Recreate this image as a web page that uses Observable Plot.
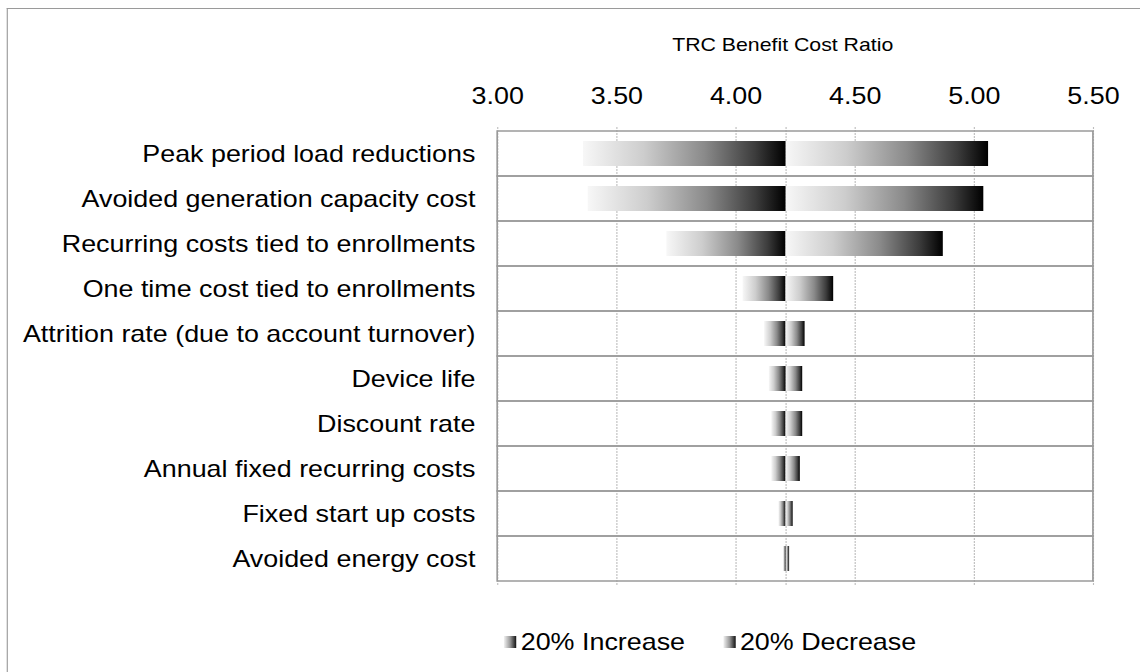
<!DOCTYPE html>
<html>
<head>
<meta charset="utf-8">
<script src="https://cdn.jsdelivr.net/npm/d3@7"></script>
<script src="https://cdn.jsdelivr.net/npm/@observablehq/plot@0.6"></script>
<style>
  html, body { margin: 0; padding: 0; background: #fff; overflow: hidden; }
  #stage { position: absolute; left: 0; top: 0; width: 1018px; height: 672px;
           transform: scaleX(1.1198); transform-origin: 0 0;
           font-family: 'Liberation Sans', Arial, sans-serif; color: #000; }
  #border { position: absolute; left: 6px; top: 8px; width: 1100px; height: 720px;
            border-left: 1.5px solid #9a9a9a; border-top: 1.5px solid #9a9a9a; }
  #title { position: absolute; left: 449px; width: 500px; top: 35px; text-align: center;
           font-size: 19px; line-height: 19px; }
  #plot { position: absolute; left: 0; top: 0; }
  #legend { position: absolute; left: 450px; top: 630px; display: flex; align-items: center;
            font-size: 24px; line-height: 24px; }
  .item { display: flex; align-items: center; margin-right: 34px; }
  .sw { width: 11px; height: 12px; margin-right: 4px;
        background: linear-gradient(to right, #f2f2f2, #9a9a9a 50%, #111); }
</style>
</head>
<body>
<div id="stage">
  <div id="border"></div>
  <div id="title"></div>
  <div id="plot"></div>
  <div id="legend"></div>
</div>
<script>
// ---- data ----
const titleText = "TRC Benefit Cost Ratio";
const categories = [
  "Peak period load reductions",
  "Avoided generation capacity cost",
  "Recurring costs tied to enrollments",
  "One time cost tied to enrollments",
  "Attrition rate (due to account turnover)",
  "Device life",
  "Discount rate",
  "Annual fixed recurring costs",
  "Fixed start up costs",
  "Avoided energy cost"
];
const seriesNames = ["20% Increase", "20% Decrease"];
const increaseValues = [5.06, 5.04, 3.71, 4.03, 4.12, 4.28, 4.15, 4.15, 4.18, 4.225];
const decreaseValues = [3.36, 3.38, 4.87, 4.41, 4.29, 4.14, 4.28, 4.27, 4.24, 4.20];
const baseValue = 4.21;
const xTicks = [3.0, 3.5, 4.0, 4.5, 5.0, 5.5];

// ---- table built from the arrays ----
const rows = [];
categories.forEach((c, i) => {
  rows.push({category: c, series: seriesNames[0], value: increaseValues[i]});
  rows.push({category: c, series: seriesNames[1], value: decreaseValues[i]});
});

const xMin = xTicks[0], xMax = xTicks[xTicks.length - 1];

const chart = Plot.plot({
  width: 1018,
  height: 610,
  marginLeft: 444,
  marginRight: 42,
  marginTop: 127,
  marginBottom: 25,
  style: {fontFamily: "'Liberation Sans', Arial, sans-serif", fontSize: "24px", color: "#000", background: "transparent", overflow: "visible"},
  x: {domain: [xMin, xMax], axis: "top", ticks: xTicks, tickFormat: d3.format(".2f"), tickSize: 0, tickPadding: 24, label: null},
  y: {domain: categories, padding: 0, tickSize: 0, tickPadding: 20, label: null},
  marks: [
    Plot.ruleX(xTicks, {stroke: "#bdbdbd", strokeWidth: 1, strokeDasharray: "2,1"}),
    Plot.ruleX([baseValue], {stroke: "#bdbdbd", strokeWidth: 1, strokeDasharray: "2,1"}),
    Plot.barX(categories, {y: d => d, x1: xMin, x2: xMax, fill: "none", stroke: "#9a9a9a", strokeWidth: 1.5, ariaLabel: "cells"}),
    Plot.barX(rows, {y: "category", x1: baseValue, x2: "value", fill: "url(#barGrad)", insetTop: 10, insetBottom: 10, ariaLabel: "tornado"})
  ]
});

// gradient + shadow definitions
const svg = d3.select(chart);
const defs = svg.insert("defs", ":first-child");
const grad = defs.append("linearGradient").attr("id", "barGrad")
  .attr("x1", 0).attr("x2", 1).attr("y1", 0).attr("y2", 0);
[[0, "#f7f7f7"], [0.3, "#cdcdcd"], [0.6, "#8a8a8a"], [0.85, "#3c3c3c"], [1, "#000"]]
  .forEach(([o, c]) => grad.append("stop").attr("offset", o).attr("stop-color", c));
const filt = defs.append("filter").attr("id", "shadow")
  .attr("x", "-5%").attr("y", "-5%").attr("width", "110%").attr("height", "115%");
filt.append("feDropShadow").attr("dx", -1.5).attr("dy", 3).attr("stdDeviation", 2.5)
  .attr("flood-color", "#666").attr("flood-opacity", 0.75);
svg.selectAll("g[aria-label='tornado']").attr("filter", "url(#shadow)");

document.getElementById("plot").appendChild(chart);
document.getElementById("title").textContent = titleText;

const legend = document.getElementById("legend");
seriesNames.forEach(name => {
  const item = document.createElement("div");
  item.className = "item";
  const sw = document.createElement("span");
  sw.className = "sw";
  const tx = document.createElement("span");
  tx.textContent = name;
  item.appendChild(sw);
  item.appendChild(tx);
  legend.appendChild(item);
});
</script>
</body>
</html>
